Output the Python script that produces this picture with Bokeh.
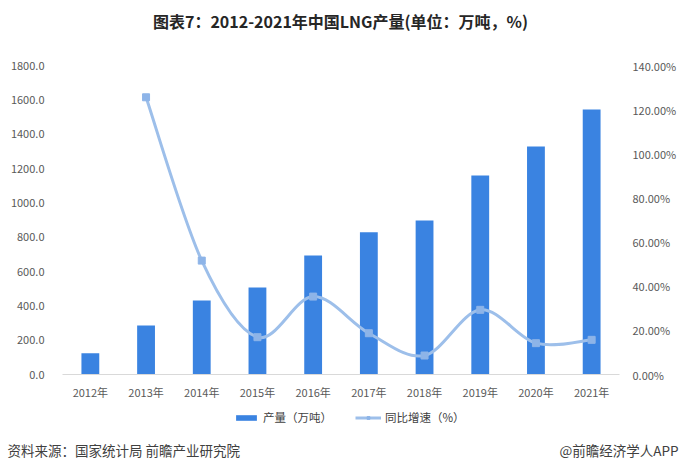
from bokeh.plotting import figure
from bokeh.layouts import column
from bokeh.models import (Range1d, LinearAxis, FixedTicker, NumeralTickFormatter,
                          PrintfTickFormatter, Label, Legend, LegendItem, ColumnDataSource)
from bokeh.embed import file_html
from bokeh.resources import INLINE

# ---- data ----
years = ["2012年", "2013年", "2014年", "2015年", "2016年", "2017年", "2018年", "2019年", "2020年", "2021年"]
output = [124, 285, 431, 507, 693, 829, 897, 1159, 1328, 1544]
growth_years = ["2013年", "2014年", "2015年", "2016年", "2017年", "2018年", "2019年", "2020年", "2021年"]
growth = [125.6, 51.6, 16.9, 35.3, 18.7, 8.6, 29.3, 14.2, 15.7]
left_ticks = [0, 200, 400, 600, 800, 1000, 1200, 1400, 1600, 1800]
right_ticks = [0, 20, 40, 60, 80, 100, 120, 140]
title_text = "图表7：2012-2021年中国LNG产量(单位：万吨，%)"
source_text = "资料来源：国家统计局 前瞻产业研究院"
credit_text = "@前瞻经济学人APP"
bar_label = "产量（万吨）"
line_label = "同比增速（%）"

FONT = "Noto Sans CJK SC"
BAR_COLOR = "#3A83E1"
LINE_COLOR = "#9DBFEA"
MARK_COLOR = "#8DB4E8"
TICK_COLOR = "#595959"
W = 679

xs = list(range(len(years)))
gx = [years.index(y) for y in growth_years]


def bare(fig):
    fig.outline_line_color = None
    fig.xgrid.visible = False
    fig.ygrid.visible = False
    fig.background_fill_color = "white"
    fig.border_fill_color = "white"
    try:
        fig.frame_align = False
    except Exception:
        pass


# ---- header with the title ----
h = figure(width=W, height=40, x_range=Range1d(0, 1), y_range=Range1d(0, 1),
           output_backend="svg", toolbar_location=None, min_border=0,
           x_axis_type=None, y_axis_type=None)
bare(h)
h.add_layout(Label(x=340, y=20, x_units="screen", y_units="screen", text=title_text,
                   text_align="center", text_baseline="middle", text_font=FONT,
                   text_font_size="16px", text_font_style="bold", text_color="#262626"))

# ---- main chart ----
p = figure(frame_width=557, frame_height=309, x_range=Range1d(-0.5, len(years) - 0.5),
           y_range=Range1d(left_ticks[0], left_ticks[-1]),
           output_backend="svg", toolbar_location=None,
           min_border_left=62, min_border_right=60, min_border_top=25, min_border_bottom=33)
bare(p)
p.extra_y_ranges = {"pct": Range1d(right_ticks[0], right_ticks[-1])}

xa = p.xaxis[0]
xa.ticker = FixedTicker(ticks=xs)
xa.major_label_overrides = {i: y for i, y in enumerate(years)}
xa.axis_line_color = "#D9D9D9"
xa.major_tick_line_color = None
xa.minor_tick_line_color = None
xa.major_label_standoff = 3
xa.major_label_text_font = FONT
xa.major_label_text_font_size = "11px"
xa.major_label_text_color = TICK_COLOR

ya = p.yaxis[0]
ya.ticker = FixedTicker(ticks=left_ticks)
ya.formatter = NumeralTickFormatter(format="0.0")
ya.axis_line_color = None
ya.major_tick_line_color = None
ya.minor_tick_line_color = None
ya.major_label_standoff = 12
ya.major_label_text_font = FONT
ya.major_label_text_font_size = "11px"
ya.major_label_text_color = TICK_COLOR

ra = LinearAxis(y_range_name="pct", ticker=FixedTicker(ticks=right_ticks),
                formatter=PrintfTickFormatter(format="%.2f%%"))
ra.axis_line_color = None
ra.major_tick_line_color = None
ra.minor_tick_line_color = None
ra.major_label_standoff = 7
ra.major_label_text_font = FONT
ra.major_label_text_font_size = "11px"
ra.major_label_text_color = TICK_COLOR
p.add_layout(ra, "right")

src = ColumnDataSource(dict(x=xs, top=output))
p.vbar(x="x", top="top", width=0.32, bottom=0, source=src,
       fill_color=BAR_COLOR, line_color=None)

# smoothed growth line: bezier segments through the data points (Catmull-Rom control points)
n = len(gx)
x0, y0, x1, y1, cx0, cy0, cx1, cy1 = [], [], [], [], [], [], [], []
for i in range(n - 1):
    pa = (gx[max(i - 1, 0)], growth[max(i - 1, 0)])
    pb = (gx[i], growth[i])
    pc = (gx[i + 1], growth[i + 1])
    pd = (gx[min(i + 2, n - 1)], growth[min(i + 2, n - 1)])
    x0.append(pb[0]); y0.append(pb[1])
    x1.append(pc[0]); y1.append(pc[1])
    cx0.append(pb[0] + (pc[0] - pa[0]) / 6.0); cy0.append(pb[1] + (pc[1] - pa[1]) / 6.0)
    cx1.append(pc[0] - (pd[0] - pb[0]) / 6.0); cy1.append(pc[1] - (pd[1] - pb[1]) / 6.0)
bsrc = ColumnDataSource(dict(x0=x0, y0=y0, x1=x1, y1=y1, cx0=cx0, cy0=cy0, cx1=cx1, cy1=cy1))
p.bezier(x0="x0", y0="y0", x1="x1", y1="y1", cx0="cx0", cy0="cy0", cx1="cx1", cy1="cy1",
         source=bsrc, line_color=LINE_COLOR, line_width=3, y_range_name="pct")
gsrc = ColumnDataSource(dict(x=gx, y=growth))
p.scatter(x="x", y="y", source=gsrc, marker="square", size=7,
          fill_color=MARK_COLOR, line_color=MARK_COLOR, y_range_name="pct")

# ---- footer: legend + source ----
g = figure(width=W, height=66, x_range=Range1d(-0.5, len(years) - 0.5), y_range=Range1d(-1000, -999),
           output_backend="svg", toolbar_location=None, min_border=0,
           x_axis_type=None, y_axis_type=None)
bare(g)
# legend renderers (same series, kept outside this strip's visible range)
lb = g.vbar(x="x", top="top", width=0, bottom="top", source=src,
            fill_color=BAR_COLOR, line_color=None)
ll = g.line(x="x", y="y", source=gsrc, line_color=LINE_COLOR, line_width=3)
lm = g.scatter(x="x", y="y", source=gsrc, marker="square", size=6,
               fill_color=MARK_COLOR, line_color=MARK_COLOR)
legend = Legend(items=[LegendItem(label=bar_label, renderers=[lb]),
                       LegendItem(label=line_label, renderers=[ll, lm])],
                orientation="horizontal", location=(233, 48),
                border_line_color=None, background_fill_alpha=0,
                padding=0, margin=0, spacing=23, label_standoff=4,
                glyph_width=26, glyph_height=7, label_height=16,
                label_text_font=FONT, label_text_font_size="11.5px", label_text_color="#404040")
g.add_layout(legend, "center")
g.add_layout(Label(x=7, y=24, x_units="screen", y_units="screen", text=source_text,
                   text_align="left", text_baseline="middle", text_font=FONT,
                   text_font_size="13.5px", text_color="#404040"))
g.add_layout(Label(x=678, y=24, x_units="screen", y_units="screen", text=credit_text,
                   text_align="right", text_baseline="middle", text_font=FONT,
                   text_font_size="13.5px", text_color="#404040"))

open("out.html", "w").write(file_html(column(h, p, g), INLINE))
